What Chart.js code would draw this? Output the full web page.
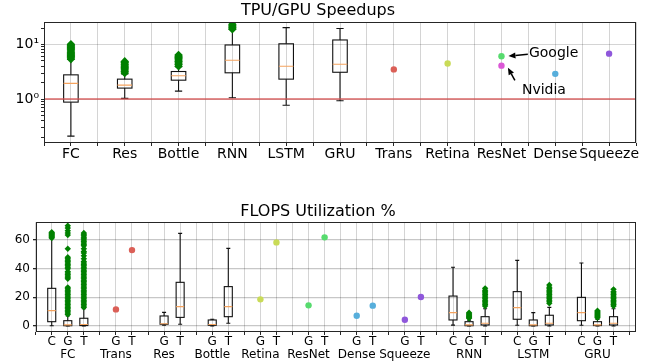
<!DOCTYPE html>
<html>
<head>
<meta charset="utf-8">
<script src="https://cdn.jsdelivr.net/npm/chart.js@4.4.1/dist/chart.umd.min.js"></script>
<style>
  html, body { margin: 0; padding: 0; background: #fff; }
  #wrap { position: relative; width: 646px; height: 363px; }
  .panel { position: absolute; left: 0; width: 646px; }
</style>
</head>
<body>
<div id="wrap">
  <div class="panel" style="top:0;height:181px"><canvas id="speedChart"></canvas></div>
  <div class="panel" style="top:181px;height:182px"><canvas id="flopsChart"></canvas></div>
</div>
<script>
// ---- TPU/GPU speedups (log scale) ----
const speedCats = ["FC", "Res", "Bottle", "RNN", "LSTM", "GRU", "Trans", "Retina", "ResNet", "Dense", "Squeeze"];
const speedLow  = [0.21, 1.03, 1.4, 1.06, 0.77, 0.93];
const speedQ1   = [0.88, 1.59, 2.22, 3.03, 2.32, 3.1];
const speedMed  = [1.94, 1.8, 2.67, 5.16, 4.0, 4.36];
const speedQ3   = [2.78, 2.32, 3.2, 9.8, 10.3, 12.1];
const speedHigh = [5.3, 2.9, 3.9, 19, 20.4, 19.6];
const speedOutliers = [
  [5.4, 5.7, 6.0, 6.3, 6.6, 6.9, 7.2, 7.6, 8.0, 8.4, 8.8, 9.3, 9.7, 10.1],
  [3.0, 3.2, 3.4, 3.6, 3.8, 4.0, 4.2, 4.4, 4.7, 4.9],
  [4.0, 4.3, 4.6, 4.9, 5.2, 5.5, 5.8, 6.1, 6.4],
  [19, 20, 21, 22, 23.5],
  [],
  []
];
const singleNames  = ["Trans", "Retina", "ResNet", "Dense", "Squeeze"];
const singleSpeed  = [3.5, 4.5, 6.1, 2.9, 6.8];   // ResNet value is Google's
const nvidiaResNet = 4.1;
const singleColors = ["#db5f57", "#c9db57", "#57db6e", "#57aedb", "#8f57db"];
const nvidiaColor  = "#db57d6";
const speedTicksY  = [0.2, 0.3, 0.4, 0.5, 0.6, 0.7, 0.8, 0.9, 1, 2, 3, 4, 5, 6, 7, 8, 9, 10, 20];

// ---- FLOPS utilization % ----
const flopsGroups = ["FC", "Trans", "Res", "Bottle", "Retina", "ResNet", "Dense", "Squeeze", "RNN", "LSTM", "GRU"];
const flopsSlots  = ["CGT", "GT", "GT", "GT", "GT", "GT", "GT", "GT", "CGT", "CGT", "CGT"];
const flopsBoxKeys = ["FC C", "FC G", "FC T", "Res G", "Res T", "Bottle G", "Bottle T",
                      "RNN C", "RNN G", "RNN T", "LSTM C", "LSTM G", "LSTM T", "GRU C", "GRU G", "GRU T"];
const flopsLow  = [0.2, 0, 0, 0.5, 1.2, 0, 1.9, 0.6, 0, 0, 0.5, 0, 0, 0.5, 0, 0];
const flopsQ1   = [3.0, 0.2, 0.3, 1.2, 6.0, 0.5, 6.5, 4.2, 0.2, 0.7, 4.7, 0.2, 0.7, 3.7, 0.3, 0.7];
const flopsMed  = [10.7, 0.8, 1.0, 1.6, 13.5, 1.0, 13.5, 9.3, 0.8, 1.9, 12.8, 0.8, 1.9, 9.3, 0.8, 1.9];
const flopsQ3   = [26.3, 3.7, 5.4, 7.0, 30.5, 4.2, 27.5, 20.9, 3.0, 6.5, 24, 4.2, 7.5, 20, 3.0, 6.5];
const flopsHigh = [61, 7, 12, 9.5, 64.7, 4.7, 54.2, 41, 4, 12, 45.8, 9.3, 13, 44, 4.5, 12];
const flopsOutliers = [
  [61.5, 62, 62.5, 63, 63.5, 64, 64.5, 65, 65.5],
  [8, 9, 10, 11, 12, 13, 14, 15, 16, 17, 18, 19, 20, 21, 22, 23, 24, 25, 26, 27, 33, 34, 35, 36, 37, 38,
   40, 41, 42, 43, 44, 45, 46, 47, 48, 54, 63.5, 65, 66.5, 68.5, 70],
  [13, 14, 15, 16, 17, 18, 19, 20, 21, 22, 23, 24, 25, 26, 27, 28, 29, 30, 31, 32, 33, 34, 35, 36, 37,
   38, 39, 40, 41, 42, 43, 44, 45, 47, 49, 51, 52, 54, 56, 57, 58, 59, 60, 61, 62, 63, 64, 65],
  [], [], [], [], [],
  [5.4, 6, 6.6, 7.2, 7.8, 8.5, 9.3],
  [14, 15, 16, 17, 18, 19, 20, 21, 22, 23, 24, 25, 26.3],
  [], [],
  [15.8, 17, 18, 19, 20, 21, 22, 23, 24, 25, 26, 27, 28.6],
  [],
  [5.8, 6.5, 7.2, 7.9, 8.6, 9.3, 10, 10.7],
  [14, 15, 16, 17, 18, 19, 20, 21, 22, 23, 24, 25.6]
];
const flopsDotKeys = ["Trans G", "Trans T", "Retina G", "Retina T", "ResNet G", "ResNet T",
                      "Dense G", "Dense T", "Squeeze G", "Squeeze T"];
const flopsDots    = [11.6, 53, 18.6, 58.4, 14.4, 61.9, 7.2, 14.2, 4.4, 20.2];
const flopsTicksY  = [0, 20, 40, 60];

// ---- styling ----
const fontFamily  = "'DejaVu Sans', sans-serif";
const frameColor  = "#262626";
const gridColor   = "rgba(0,0,0,0.17)";
const medianColor = "#f5a35e";
const outlierColor = "#008000";

Chart.defaults.font.family = fontFamily;
Chart.defaults.color = "#000";

function boxPlugin(boxes, boxWidth) {
  return {
    id: "boxes",
    beforeDatasetsDraw(chart) {
      const { ctx, chartArea: a, scales: { x, y } } = chart;
      ctx.save();
      ctx.beginPath();
      ctx.rect(a.left, a.top, a.width, a.height);
      ctx.clip();
      ctx.lineWidth = 1.1;
      boxes.forEach(b => {
        const xc = x.getPixelForValue(b.pos);
        const half = Math.abs(x.getPixelForValue(b.pos + boxWidth / 2) - xc);
        const cap = half / 2;
        const py = v => y.getPixelForValue(v);
        ctx.strokeStyle = "#111";
        ctx.beginPath();
        ctx.moveTo(xc, py(b.q1)); ctx.lineTo(xc, py(b.low));
        ctx.moveTo(xc - cap, py(b.low)); ctx.lineTo(xc + cap, py(b.low));
        ctx.moveTo(xc, py(b.q3)); ctx.lineTo(xc, py(b.high));
        ctx.moveTo(xc - cap, py(b.high)); ctx.lineTo(xc + cap, py(b.high));
        ctx.stroke();
        ctx.strokeRect(xc - half, py(b.q3), 2 * half, py(b.q1) - py(b.q3));
        ctx.strokeStyle = medianColor;
        ctx.beginPath();
        ctx.moveTo(xc - half, py(b.med)); ctx.lineTo(xc + half, py(b.med));
        ctx.stroke();
      });
      ctx.restore();
    }
  };
}

const framePlugin = {
  id: "frame",
  afterDraw(chart) {
    const { ctx, chartArea: a } = chart;
    ctx.save();
    ctx.strokeStyle = frameColor;
    ctx.lineWidth = 1;
    const l = Math.round(a.left) + 0.5, t = Math.round(a.top) + 0.5;
    const r = Math.round(a.right) - 0.5, btm = Math.round(a.bottom) - 0.5;
    ctx.strokeRect(l, t, r - l, btm - t);
    ctx.restore();
  }
};

// text + arrow notes, placed in data coordinates like matplotlib annotate
function notePlugin(notes) {
  return {
    id: "notes",
    afterDatasetsDraw(chart) {
      const { ctx, scales: { x, y } } = chart;
      ctx.save();
      notes.forEach(n => {
        const hx = x.getPixelForValue(n.head[0]), hy = y.getPixelForValue(n.head[1]);
        const tx = x.getPixelForValue(n.tail[0]), ty = y.getPixelForValue(n.tail[1]);
        const ang = Math.atan2(hy - ty, hx - tx);
        const hl = 7, hw = 3;
        ctx.strokeStyle = "#000";
        ctx.fillStyle = "#000";
        ctx.lineWidth = 1.5;
        ctx.beginPath();
        ctx.moveTo(tx, ty);
        ctx.lineTo(hx - hl * Math.cos(ang), hy - hl * Math.sin(ang));
        ctx.stroke();
        ctx.beginPath();
        ctx.moveTo(hx, hy);
        ctx.lineTo(hx - hl * Math.cos(ang) + hw * Math.sin(ang), hy - hl * Math.sin(ang) - hw * Math.cos(ang));
        ctx.lineTo(hx - hl * Math.cos(ang) - hw * Math.sin(ang), hy - hl * Math.sin(ang) + hw * Math.cos(ang));
        ctx.closePath();
        ctx.fill();
        ctx.font = "14px " + fontFamily;
        ctx.textAlign = "left";
        ctx.textBaseline = "middle";
        ctx.fillText(n.text, x.getPixelForValue(n.at[0]), y.getPixelForValue(n.at[1]));
      });
      ctx.restore();
    }
  };
}

// ================= top chart =================
const speedBoxes = speedLow.map((v, i) => ({
  pos: i, low: v, q1: speedQ1[i], med: speedMed[i], q3: speedQ3[i], high: speedHigh[i]
}));
const speedOutPts = [];
speedOutliers.forEach((arr, i) => arr.forEach(v => speedOutPts.push({ x: i, y: v })));
const speedDotPts = singleNames.map((n, i) => ({ x: speedCats.indexOf(n), y: singleSpeed[i] }));
speedDotPts.push({ x: speedCats.indexOf("ResNet"), y: nvidiaResNet });
const speedDotColors = singleColors.concat([nvidiaColor]);

const speedGridX = [];
speedCats.forEach((c, i) => { speedGridX.push(i - 0.5, i); });
speedGridX.push(speedCats.length - 0.5);

new Chart(document.getElementById("speedChart"), {
  type: "scatter",
  data: {
    datasets: [
      {
        data: speedDotPts,
        pointBackgroundColor: speedDotColors,
        pointBorderWidth: 0,
        pointRadius: 3.2
      },
      {
        data: speedOutPts,
        pointStyle: "rectRot",
        pointBackgroundColor: outlierColor,
        pointBorderColor: outlierColor,
        pointBorderWidth: 0,
        pointRadius: 4.3
      },
      {
        type: "line",
        data: [{ x: -0.5, y: 1 }, { x: speedCats.length - 0.5, y: 1 }],
        borderColor: "rgba(214,80,80,0.65)",
        borderWidth: 2,
        pointRadius: 0,
        showLine: true
      }
    ]
  },
  options: {
    animation: false,
    responsive: true,
    maintainAspectRatio: false,
    layout: { padding: { left: 0, right: 10, top: 0, bottom: 0 } },
    plugins: {
      legend: { display: false },
      tooltip: { enabled: false },
      title: {
        display: true,
        text: "TPU/GPU Speedups",
        color: "#000",
        font: { size: 16, weight: "normal" },
        padding: { top: 1, bottom: 2 }
      }
    },
    scales: {
      x: {
        type: "linear",
        min: -0.5,
        max: speedCats.length - 0.5,
        afterBuildTicks: s => { s.ticks = speedGridX.map(v => ({ value: v })); },
        afterFit: s => { s.height = 38; },
        ticks: {
          autoSkip: false,
          maxRotation: 0,
          padding: 0,
          color: "#000",
          font: { size: 14 },
          callback: v => Number.isInteger(v) ? speedCats[v] : ""
        },
        grid: { color: gridColor, tickColor: frameColor, tickLength: 3 },
        border: { display: false }
      },
      y: {
        type: "logarithmic",
        min: 0.157,
        max: 25.6,
        afterBuildTicks: s => { s.ticks = speedTicksY.map(v => ({ value: v })); },
        afterFit: s => { s.width = 44; },
        ticks: {
          autoSkip: false,
          padding: 2,
          color: "#000",
          font: { size: 14 },
          callback: v => v === 1 ? "10\u2070" : (v === 10 ? "10\u00b9" : "")
        },
        grid: {
          color: c => (c.tick && (c.tick.value === 1 || c.tick.value === 10)) ? gridColor : "rgba(0,0,0,0)",
          tickColor: frameColor,
          tickLength: 3
        },
        border: { display: false }
      }
    }
  },
  plugins: [
    boxPlugin(speedBoxes, 0.27),
    framePlugin,
    notePlugin([
      { text: "Google", at: [8.51, 7.0], tail: [8.49, 6.6], head: [8.13, 6.15] },
      { text: "Nvidia", at: [8.38, 1.46], tail: [8.25, 2.2], head: [8.12, 3.75] }
    ])
  ]
});

// ================= bottom chart =================
const slotPos = {};
const slotLabels = {};
let p = 0;
flopsGroups.forEach((g, gi) => {
  flopsSlots[gi].split("").forEach(letter => {
    slotPos[g + " " + letter] = p;
    slotLabels[p] = letter === "G" ? [letter, g] : [letter];
    p++;
  });
  p++;
});
const flopsMax = p - 0.6;

const flopsBoxes = flopsBoxKeys.map((k, i) => ({
  pos: slotPos[k], low: flopsLow[i], q1: flopsQ1[i], med: flopsMed[i], q3: flopsQ3[i], high: flopsHigh[i]
}));
const flopsOutPts = [];
flopsOutliers.forEach((arr, i) => arr.forEach(v => flopsOutPts.push({ x: slotPos[flopsBoxKeys[i]], y: v })));
const flopsDotPts = flopsDotKeys.map((k, i) => ({ x: slotPos[k], y: flopsDots[i] }));
const flopsDotColors = flopsDotKeys.map(k => singleColors[singleNames.indexOf(k.split(" ")[0])]);

const flopsGridX = [];
for (let i = -1; i <= p - 1; i++) flopsGridX.push(i);

new Chart(document.getElementById("flopsChart"), {
  type: "scatter",
  data: {
    datasets: [
      {
        data: flopsDotPts,
        pointBackgroundColor: flopsDotColors,
        pointBorderWidth: 0,
        pointRadius: 3.2
      },
      {
        data: flopsOutPts,
        pointStyle: "rectRot",
        pointBackgroundColor: outlierColor,
        pointBorderColor: outlierColor,
        pointBorderWidth: 0,
        pointRadius: 3.2
      }
    ]
  },
  options: {
    animation: false,
    responsive: true,
    maintainAspectRatio: false,
    layout: { padding: { left: 0, right: 10, top: 0, bottom: 0 } },
    plugins: {
      legend: { display: false },
      tooltip: { enabled: false },
      title: {
        display: true,
        text: "FLOPS Utilization %",
        color: "#000",
        font: { size: 16, weight: "normal" },
        padding: { top: 21, bottom: 1 }
      }
    },
    scales: {
      x: {
        type: "linear",
        min: -0.98,
        max: flopsMax,
        afterBuildTicks: s => { s.ticks = flopsGridX.map(v => ({ value: v })); },
        afterFit: s => { s.height = 31; },
        ticks: {
          autoSkip: false,
          maxRotation: 0,
          padding: 0,
          color: "#000",
          font: { size: 12, lineHeight: 1.1 },
          callback: v => slotLabels[v] || ""
        },
        grid: { color: gridColor, tickColor: frameColor, tickLength: 3 },
        border: { display: false }
      },
      y: {
        type: "linear",
        min: -4.2,
        max: 72.5,
        afterBuildTicks: s => { s.ticks = flopsTicksY.map(v => ({ value: v })); },
        afterFit: s => { s.width = 36; },
        ticks: {
          padding: 3,
          color: "#000",
          font: { size: 12 }
        },
        grid: { color: "rgba(0,0,0,0.22)", lineWidth: 1.3, tickColor: frameColor, tickLength: 3 },
        border: { display: false }
      }
    }
  },
  plugins: [boxPlugin(flopsBoxes, 0.5), framePlugin]
});
</script>
</body>
</html>
